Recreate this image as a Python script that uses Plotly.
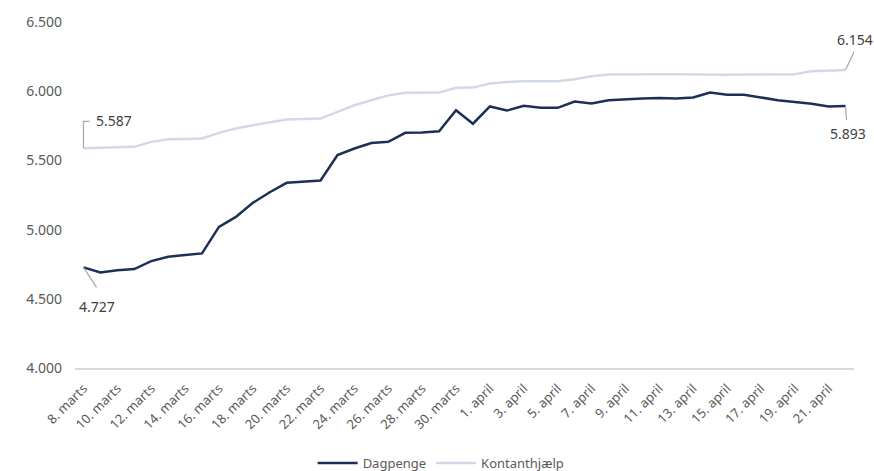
import plotly.graph_objects as go

categories = [f"{d}. marts" for d in range(8, 32)] + [f"{d}. april" for d in range(1, 23)]

dagpenge = [4727, 4691, 4707, 4715, 4772, 4804, 4816, 4828, 5020, 5092,
            5193, 5270, 5338, 5345, 5355, 5538, 5586, 5626, 5634, 5699,
            5702, 5711, 5862, 5765, 5890, 5860, 5894, 5880, 5880, 5925,
            5911, 5935, 5942, 5947, 5950, 5948, 5955, 5990, 5975, 5975,
            5955, 5935, 5922, 5910, 5890, 5893]

kontanthjaelp = [5587, 5590, 5592, 5598, 5634, 5653, 5655, 5658, 5699, 5730,
                 5754, 5774, 5795, 5800, 5802, 5850, 5899, 5935, 5970, 5988,
                 5990, 5990, 6025, 6026, 6055, 6067, 6072, 6072, 6072, 6086,
                 6108, 6120, 6122, 6122, 6122, 6122, 6120, 6115, 6118, 6120,
                 6120, 6122, 6122, 6145, 6150, 6154]

tick_labels = categories[::2]
y_ticks = [4000, 4500, 5000, 5500, 6000, 6500]

DARK = "#1c3057"
LIGHT = "#d2d9e6"
TXT = "#595959"
LEAD = "#a6a6a6"
FONT = "Noto Sans"

fig = go.Figure()
fig.add_trace(go.Scatter(x=categories, y=dagpenge, name="Dagpenge", mode="lines",
                         line=dict(color=DARK, width=2.5)))
fig.add_trace(go.Scatter(x=categories, y=kontanthjaelp, name="Kontanthjælp", mode="lines",
                         line=dict(color=LIGHT, width=2.5)))

def label(cat, val, path, dx, dy):
    fig.add_shape(type="path", xref="x", yref="y", xsizemode="pixel", ysizemode="pixel",
                  xanchor=cat, yanchor=val, path=path,
                  line=dict(color=LEAD, width=1.2))
    fig.add_annotation(x=cat, y=val, xref="x", yref="y", text=f"{val:,}".replace(",", "."),
                       showarrow=False, xshift=dx, yshift=dy,
                       font=dict(family=FONT, size=14, color="#404040"))

label(categories[0], kontanthjaelp[0], "M0,0 L0,27 L6,27", 31, 28)
label(categories[0], dagpenge[0], "M0,0 L13,-20", 14, -39)
label(categories[-1], kontanthjaelp[-1], "M0,0 L9,19", 9, 30)
label(categories[-1], dagpenge[-1], "M0,0 L1,-14", 2, -27)

fig.update_layout(
    width=874, height=471,
    margin=dict(l=75, r=20, t=22, b=103, autoexpand=False),
    paper_bgcolor="white", plot_bgcolor="white",
    separators=",.",
    font=dict(family=FONT, size=12, color=TXT),
    showlegend=True,
    legend=dict(orientation="h", x=0.47, xanchor="center", y=-0.275, yanchor="middle",
                font=dict(family=FONT, size=13, color=TXT), itemwidth=40),
    xaxis=dict(type="category", range=[-0.5, len(categories) - 0.5], automargin=False,
               tickmode="array", tickvals=tick_labels, ticktext=tick_labels,
               tickangle=-45, showgrid=False, showline=True, linecolor="#d9d9d9",
               linewidth=1.5, ticks="", ticklabelstandoff=6,
               tickfont=dict(family=FONT, size=13, color=TXT)),
    yaxis=dict(range=[4000, 6500], tickvals=y_ticks, tickformat=",.0f", automargin=False,
               showgrid=False, zeroline=False, showline=False, ticks="",
               ticklabelstandoff=12,
               tickfont=dict(family=FONT, size=14, color=TXT)),
)

fig.write_html("out.html", config={"displayModeBar": False},
               post_script="document.body.style.margin='0px';")
